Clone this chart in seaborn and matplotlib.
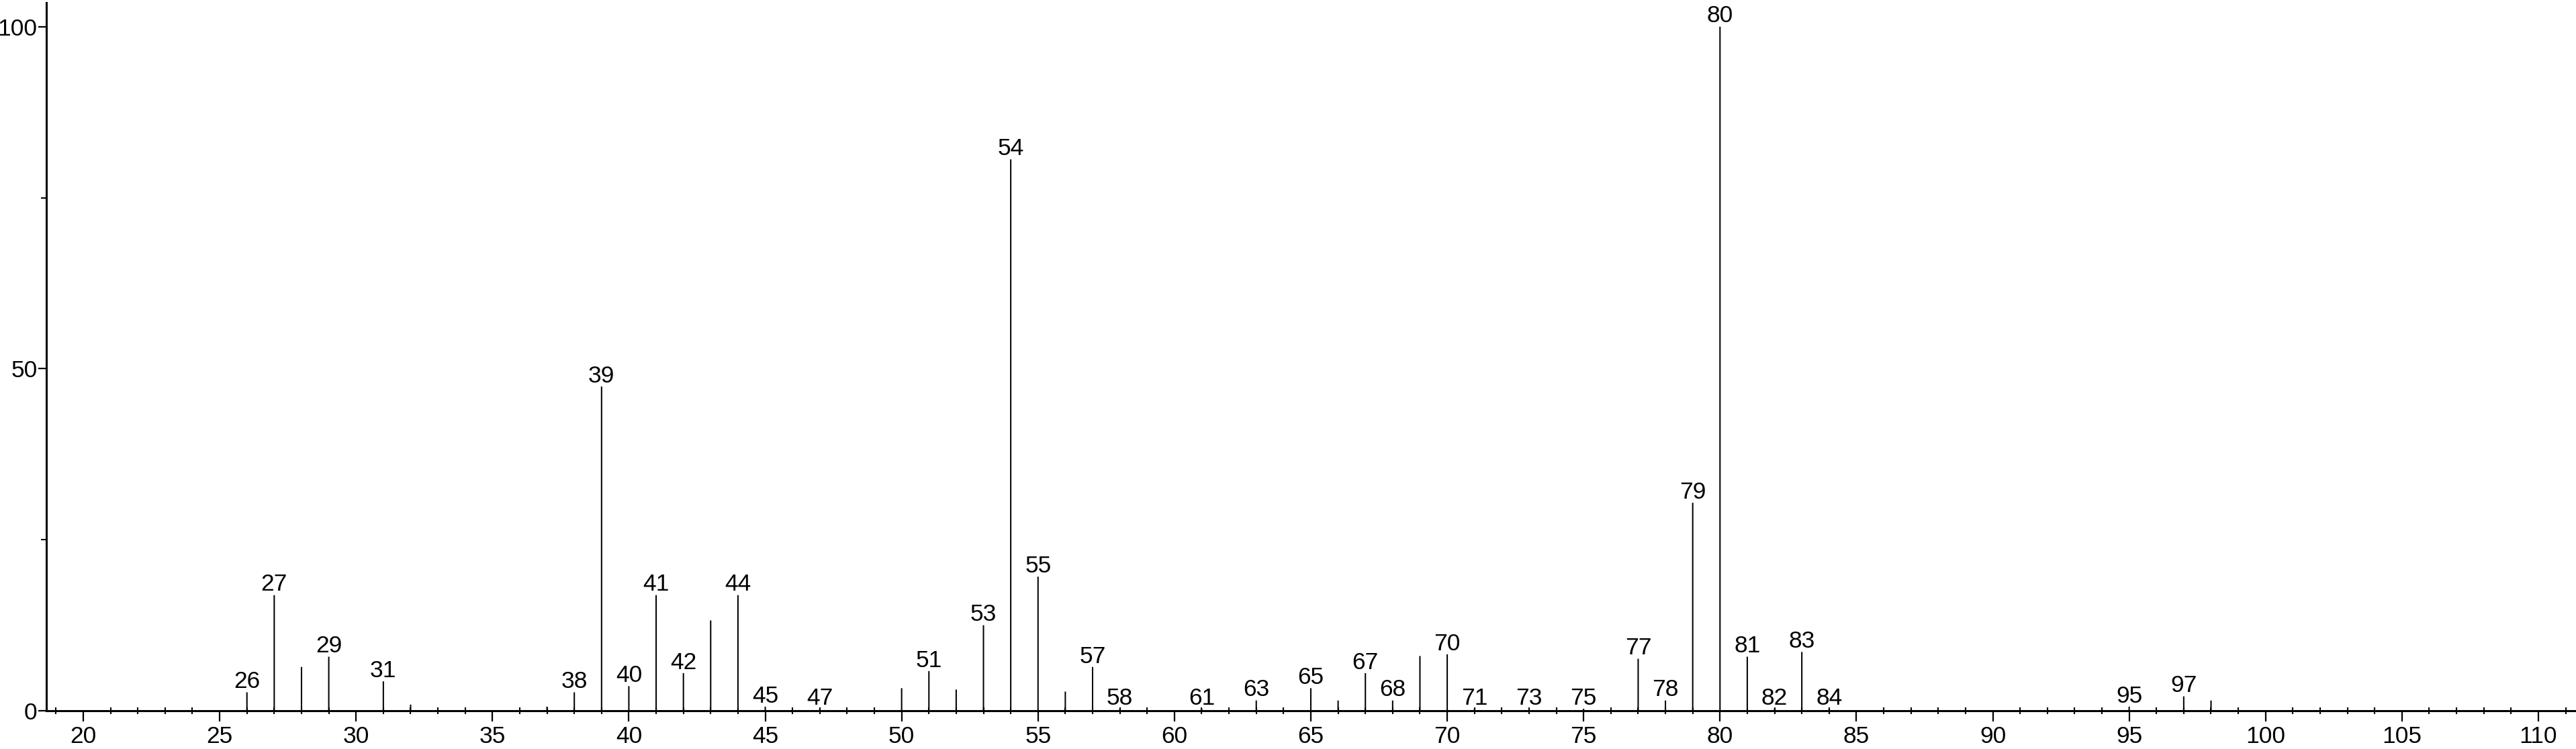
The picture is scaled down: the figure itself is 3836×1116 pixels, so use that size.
import numpy as np
import pandas as pd
import seaborn as sns
import matplotlib.pyplot as plt

# ================================
# Spectrum data (m/z vs relative intensity)
# ================================
mz = [26, 27, 28, 29, 31, 32, 37, 38, 39, 40, 41, 42, 43, 44, 45, 47,
      50, 51, 52, 53, 54, 55, 56, 57, 58, 61, 63, 65, 66, 67, 68, 69,
      70, 71, 73, 75, 77, 78, 79, 80, 81, 82, 83, 84, 95, 97, 98]
intensity = [2.7, 16.9, 6.4, 7.9, 4.3, 0.9, 0.6, 2.7, 47.4, 3.6, 16.9, 5.5, 13.2, 16.9, 0.6, 0.3,
             3.3, 5.8, 3.1, 12.5, 80.6, 19.6, 2.8, 6.4, 0.3, 0.3, 1.5, 3.3, 1.5, 5.5, 1.5, 8.0,
             8.25, 0.3, 0.3, 0.3, 7.6, 1.5, 30.4, 100.0, 7.9, 0.3, 8.6, 0.3, 0.6, 2.1, 1.5]
labeled_peaks = [26, 27, 29, 31, 38, 39, 40, 41, 42, 44, 45, 47, 51, 53, 54, 55, 57, 58,
                 61, 63, 65, 67, 68, 70, 71, 73, 75, 77, 78, 79, 80, 81, 82, 83, 84, 95, 97]

x_major = list(range(20, 111, 5))
x_minor = list(range(19, 112))
y_major = [0, 50, 100]
y_minor = [25, 75]

df = pd.DataFrame({"mz": mz, "intensity": intensity})

sns.set_style("ticks")
plt.rcParams['font.family'] = ['Liberation Sans', 'DejaVu Sans']

fig = plt.figure(figsize=(38.36, 11.16), dpi=100)
ax = fig.add_axes([69 / 3836, 57 / 1116, 1 - 69 / 3836, 1055 / 1116])

sns.barplot(data=df, x="mz", y="intensity", native_scale=True, width=0.05,
            color="black", linewidth=0, errorbar=None, saturation=1, ax=ax)
# keep all stems the same width (no pixel snapping)
for p in ax.patches:
    p.set_snap(False)

# peak labels
for m, v in zip(mz, intensity):
    if m in labeled_peaks:
        ax.annotate(str(m), xy=(m, v), xytext=(0, 4.5), textcoords="offset points",
                    ha="center", va="baseline", fontsize=25.5, color="black")

ax.set_xlim(18.646, 111.38)
ax.set_ylim(0, 103.5)

ax.set_xticks(x_major)
ax.set_xticklabels([str(t) for t in x_major])
ax.set_xticks(x_minor, minor=True)
ax.set_yticks(y_major)
ax.set_yticklabels([str(t) for t in y_major])
ax.set_yticks(y_minor, minor=True)

ax.tick_params(axis="x", which="major", direction="out", length=11.5, width=1.6,
               labelsize=25.5, pad=4, colors="black")
ax.tick_params(axis="x", which="minor", direction="inout", length=6.5, width=1.5, colors="black")
ax.tick_params(axis="y", which="major", direction="out", length=8.6, width=1.6,
               labelsize=25.5, pad=1, colors="black")
ax.tick_params(axis="y", which="minor", direction="out", length=5.8, width=1.5, colors="black")

ax.set_xlabel("")
ax.set_ylabel("")
sns.despine(ax=ax)
for side in ["left", "bottom"]:
    ax.spines[side].set_linewidth(2.2)
    ax.spines[side].set_color("black")

fig.savefig("out.png", dpi=100, facecolor="white")
